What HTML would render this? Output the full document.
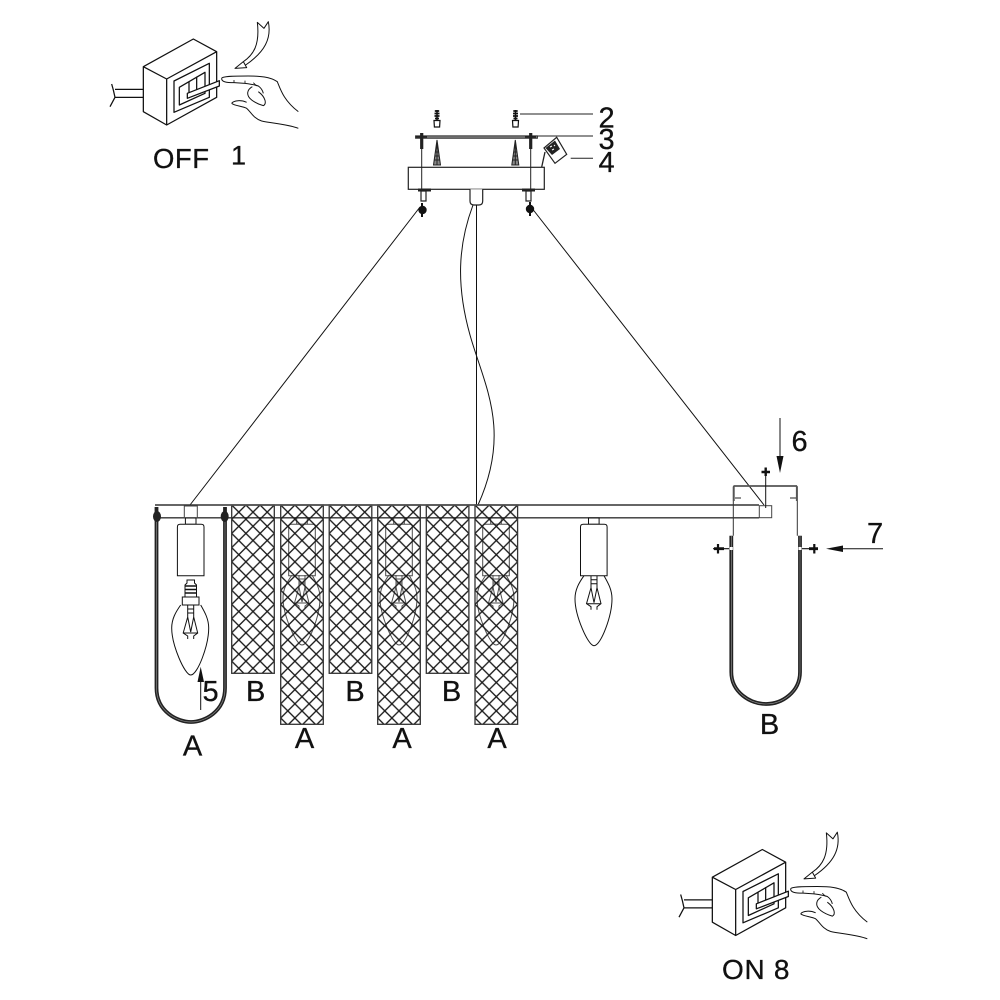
<!DOCTYPE html>
<html><head><meta charset="utf-8"><style>
html,body{margin:0;padding:0;background:#fff}
svg{display:block}
text{font-family:"Liberation Sans",Arial,sans-serif;fill:#111;stroke:#111;stroke-width:.3px;font-size:29px}
</style></head><body>
<svg width="1000" height="1000" viewBox="0 0 1000 1000" xmlns="http://www.w3.org/2000/svg">
<defs>
<pattern id="m" patternUnits="userSpaceOnUse" width="14.2" height="14.2">
<path d="M-1,-1L15.200,15.200M15.200,-1L-1,15.200" stroke="#1a1a1a" stroke-width="1.350" fill="none"/>
</pattern>
<g id="sw" transform="translate(90,10) scale(.33333)" fill="none" stroke="#111" stroke-width="3.800" stroke-linejoin="round">
<path d="M160,170L310,87L380,125V262L230,345L160,305ZM160,170L230,207L380,125M230,207V345"/>
<path d="M252,213L358,160V262L252,307Z"/>
<path d="M268,232L345,187V250L268,285Z"/>
<path d="M297,215V250M320,200V240"/>
<path d="M292,250L388,212V228L292,265Z" fill="#fff"/>
<path d="M75,238H160M75,262H160M65,222L70,240L75,262L60,290"/>
<path d="M395,205C398,198 440,198 475,198C510,198 540,200 562,215C572,240 582,272 625,305" stroke-width="3"/>
<path d="M395,205C394,216 410,218 432,218L465,220C480,222 495,224 505,228C515,235 518,242 520,250" stroke-width="3"/>
<path d="M432,210V218M465,212V220M490,218L500,228" stroke-width="2.500"/>
<path d="M487,230C472,238 466,255 485,270C498,280 510,284 520,287C530,282 528,262 505,245" stroke-width="3"/>
<path d="M425,280C432,270 455,270 470,277M425,280C435,288 458,288 470,295C482,305 490,325 515,333C545,340 590,342 625,355" stroke-width="3"/>
<path d="M435,175L460,155L470,173ZM460,155C490,135 510,105 502,37L522,55L535,35C545,85 525,125 467,165" stroke-width="3"/>
</g>
<g id="bulb" fill="none" stroke="#111" stroke-width="1">
<path d="M-10,0C-15,7 -19,14 -19,23C-19,40 -6,70 0,70C7,70 18,40 18,23C18,14 14,7 10,0"/>
<path d="M-3,0V12L-7.500,28L-3,31V34M3,0V12L7,28L3,31V34M-3,12L0,27L3,12M-7.500,28L7,28M-3,4H3M-3,8H3"/>
</g>
<g id="sock" fill="#fff" stroke="#111" stroke-width="1">
<rect x="-5.300" y="518" width="10.600" height="6.300"/>
<path d="M-13.300,575.700V527Q-13.300,524.300 -10.500,524.300H10.500Q13.300,524.300 13.300,527V575.700Z"/>
</g>
<g id="sc">
<path d="M0,0V10" stroke="#111" stroke-width="1.500"/>
<path d="M-2.200,1H2.200M-2.500,3.500H2.500M-2.500,6H2.500M-2,8.500H2" stroke="#111" stroke-width="1.800"/>
<path d="M-3,10.500H3L2.600,17H-2.600Z" fill="#fff" stroke="#111" stroke-width="1.200"/>
</g>
<path id="anc" d="M0,0L-3.500,25H3.500ZM-1.500,8H1.500M-2,12H2M-2.500,16H2.500M-3,20H3M0,0V25" fill="#888" stroke="#222" stroke-width="1"/>
</defs>
<rect width="1000" height="1000" fill="#fff"/>

<use href="#sw"/>
<use href="#sw" x="569" y="810.500"/>
<text x="153" y="168" style="font-size:27.500px;letter-spacing:.5px">OFF</text>
<text x="231" y="164.500" style="font-size:27px">1</text>
<text x="722" y="979" style="font-size:28px;letter-spacing:.7px">ON 8</text>

<!-- canopy -->
<use href="#sc" x="437" y="110"/>
<use href="#sc" x="515.500" y="110"/>
<use href="#anc" x="437" y="140"/>
<use href="#anc" x="515.300" y="140"/>
<rect x="415.500" y="135.800" width="122" height="2.500" fill="#777" stroke="#222" stroke-width=".8"/>
<rect x="408.300" y="167.300" width="136" height="22" fill="#fff" stroke="#222" stroke-width="1.200"/>
<path d="M421.700,133V190M530.700,133V190" stroke="#222" stroke-width="1"/>
<path d="M421.700,133V149M530.700,133V149" stroke="#222" stroke-width="3.200"/>
<path d="M416,136.800H427M525,136.800H536" stroke="#222" stroke-width="2.200"/>
<path d="M418,190H431M522,190H535" stroke="#222" stroke-width="3"/>
<path d="M421,191H426V201H421ZM526,191H531V201H526Z" fill="#fff" stroke="#222" stroke-width="1.200"/>
<circle cx="422.500" cy="210" r="4.200" fill="#111"/><circle cx="530" cy="209" r="4.200" fill="#111"/>
<path d="M422,203V217M530,202V216" stroke="#111" stroke-width="2"/>
<path d="M470,189.300V201Q470,205 474,205H479Q482.700,205 482.700,201V189.300" fill="#fff" stroke="#222" stroke-width="1.200"/>
<path d="M556.700,137.300L566.700,154.300L555,163.300L544,148Z" fill="#fff" stroke="#222" stroke-width="1.200"/>
<path d="M545.500,148L555,140.500L560,149L552,155Z" fill="#222"/>
<path d="M550,147l2,-1M554,145l1,1M552,150l2,-1" stroke="#fff" stroke-width="1"/>
<path d="M545,152L541.700,167" stroke="#222" stroke-width="1.300"/>
<path d="M520,114H593M537,136H593M570.700,158.300H593" stroke="#222" stroke-width="1"/>
<text x="598.500" y="127.500">2</text>
<text x="598.500" y="149">3</text>
<text x="598.500" y="172">4</text>

<!-- suspension -->
<path d="M420,207L190,505M531,207L764,505M476.500,205V505" stroke="#111" stroke-width="1" fill="none"/>
<path d="M473,205C458,245 456,285 470,335C484,385 512,430 478,505" stroke="#111" stroke-width="1" fill="none"/>

<!-- bar -->
<path d="M155,505H759M155,517.800H759" stroke="#333" stroke-width="1.400" fill="none"/>
<rect x="759.300" y="505.700" width="12.400" height="12" fill="#fff" stroke="#444" stroke-width="1"/>
<rect x="184.300" y="506" width="13" height="11.700" fill="#fff" stroke="#444" stroke-width="1"/>

<!-- left frame A -->
<path d="M156.500,507V688C156.500,712 178,722 191,722C204,722 225,712 225,688V507" fill="none" stroke="#222" stroke-width="3.800"/>
<path d="M156.500,516V688C156.500,712 178,722 191,722C204,722 225,712 225,688V516" fill="none" stroke="#888" stroke-width=".7"/>
<ellipse cx="157" cy="516.500" rx="4" ry="5.500" fill="#222"/>
<ellipse cx="224.700" cy="516.500" rx="4" ry="5.500" fill="#222"/>
<use href="#sock" x="190.700"/>
<path d="M187,580H194.500V583L196.500,585V597H185V585L187,583Z" fill="#fff" stroke="#111" stroke-width="1"/>
<path d="M185,586H196.500M185,589.500H196.500M185,593H196.500" stroke="#111" stroke-width="1.500"/>
<rect x="182.300" y="597" width="16.700" height="8" fill="#fff" stroke="#111" stroke-width="1"/>
<use href="#bulb" x="190.700" y="605"/>

<!-- free bulb -->
<use href="#sock" x="593.800"/>
<use href="#bulb" x="594" y="575.700"/>

<!-- hidden bulbs behind mesh -->
<g opacity=".75">
<use href="#sock" x="302"/><use href="#bulb" x="302" y="575"/>
<use href="#sock" x="399"/><use href="#bulb" x="399" y="575"/>
<use href="#sock" x="496"/><use href="#bulb" x="496" y="575"/>
</g>

<!-- mesh panels -->
<g stroke="#333" stroke-width="1.300">
<g transform="translate(231.700,505)"><rect width="42.600" height="168.300" fill="url(#m)"/></g>
<g transform="translate(280.700,505)"><rect width="42.600" height="219.300" fill="url(#m)"/></g>
<g transform="translate(329.200,505)"><rect width="42.600" height="168.300" fill="url(#m)"/></g>
<g transform="translate(377.700,505)"><rect width="42.600" height="219.300" fill="url(#m)"/></g>
<g transform="translate(426.300,505)"><rect width="42.600" height="168.300" fill="url(#m)"/></g>
<g transform="translate(475,505)"><rect width="42.600" height="219.300" fill="url(#m)"/></g>
</g>
<path d="M231,505H518" stroke="#555" stroke-width="1.500"/>

<!-- right frame B -->
<path d="M731.300,535.700V672C731.300,692 750,704 766,704C782,704 800,692 800,672V535.700" fill="none" stroke="#222" stroke-width="3.800"/>
<path d="M731.300,536V672C731.300,692 750,704 766,704C782,704 800,692 800,672V536" fill="none" stroke="#999" stroke-width=".6"/>
<path d="M733.300,535.700V487Q733.300,486 735,486H796Q797.300,486 797.300,487V535.700" fill="none" stroke="#333" stroke-width="1"/>
<path d="M733.800,486.500V501M796.800,486.500V501M733.500,486H797" fill="none" stroke="#555" stroke-width="1.800"/>
<path d="M735,498H741M790,498H796" stroke="#222" stroke-width="1"/>
<path d="M765.700,468V508" stroke="#111" stroke-width="1"/>
<path d="M761.500,472H770M765.700,467.500V476" stroke="#111" stroke-width="2.400"/>
<path d="M713,548.700H729M802,548.700H818" stroke="#111" stroke-width="1.200"/>
<path d="M714,548.700H724M809,548.700H818" stroke="#111" stroke-width="2.800"/>
<path d="M718,544V553.500M814.300,544V553.500" stroke="#111" stroke-width="2.200"/>
<rect x="729.800" y="547" width="3" height="3" fill="#fff"/><rect x="798.500" y="547" width="3" height="3" fill="#fff"/>

<!-- arrows -->
<path d="M780,418V460" stroke="#111" stroke-width="1"/>
<path d="M780,473L776.500,456H783.500Z" fill="#111"/>
<path d="M883,548.700H840" stroke="#111" stroke-width="1"/>
<path d="M826,548.700L843,545.500V552Z" fill="#111"/>
<path d="M200.700,710V680" stroke="#111" stroke-width="1"/>
<path d="M200.700,666.700L197.500,682H204Z" fill="#111"/>

<!-- labels -->
<text x="791.500" y="451">6</text>
<text x="867" y="543">7</text>
<text x="202.500" y="701">5</text>
<text x="192.500" y="755.500" text-anchor="middle">A</text>
<text x="255.700" y="701" text-anchor="middle">B</text>
<text x="304.600" y="748" text-anchor="middle">A</text>
<text x="355" y="701" text-anchor="middle">B</text>
<text x="402" y="748" text-anchor="middle">A</text>
<text x="451.500" y="701" text-anchor="middle">B</text>
<text x="497" y="748" text-anchor="middle">A</text>
<text x="769.500" y="734" text-anchor="middle">B</text>
</svg>
</body></html>
